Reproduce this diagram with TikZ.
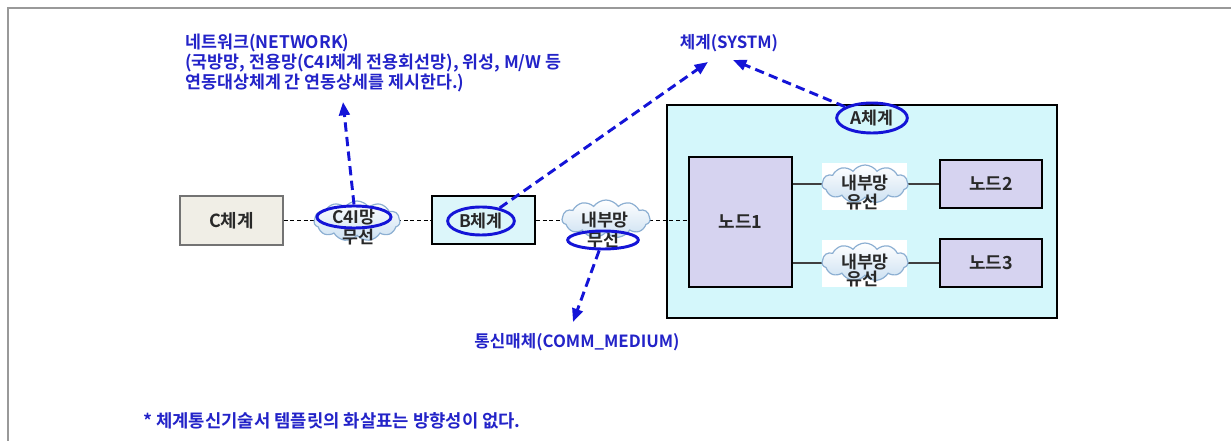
\documentclass[tikz,border=0pt]{standalone}
\usepackage{fontspec}
\setmainfont{Noto Sans CJK KR}[BoldFont={Noto Sans CJK KR Bold}]
\usetikzlibrary{shapes.geometric,shapes.symbols,arrows.meta}
\definecolor{lblue}{RGB}{35,35,200}
\definecolor{hblue}{RGB}{20,20,215}
\definecolor{cfill}{RGB}{240,238,230}
\definecolor{bfill}{RGB}{220,246,250}
\definecolor{afill}{RGB}{212,247,251}
\definecolor{nfill}{RGB}{214,211,240}
\definecolor{txtgray}{RGB}{40,40,40}
\definecolor{cloudedge}{RGB}{140,175,210}
\definecolor{cloudfill}{RGB}{205,225,242}
\begin{document}
\begin{tikzpicture}[x=0.75pt,y=-0.75pt,
  lbl/.style={text=lblue, font=\fontsize{12.6}{15}\selectfont\bfseries, inner sep=0pt},
  box/.style={draw=black, line width=1.5pt, inner sep=0pt, text=txtgray, font=\fontsize{13.5}{15}\selectfont\bfseries},
  ctxt/.style={text=txtgray, font=\fontsize{13}{15}\selectfont\bfseries, inner sep=0pt},
  hl/.style={ellipse, draw=hblue, line width=2.2pt, inner sep=0pt},
  ptr/.style={draw=hblue, line width=2.2pt, dash pattern=on 7pt off 4pt, -{Triangle[length=10pt,width=8pt]}},
  link/.style={draw=black, line width=0.6pt, dash pattern=on 3pt off 2pt},
  solidlink/.style={draw=black!75, line width=0.9pt},
  cloudy/.style={cloud, cloud puffs=11, cloud puff arc=110, draw=cloudedge, top color=white, bottom color=cloudfill, line width=0.9pt, inner sep=0pt}
]
\path[use as bounding box] (0,0) rectangle (1231,441);
\draw[gray!80, line width=1.4pt] (8,441) -- (8,8) -- (1231,8);

% boxes
\node[box, draw=gray!90!black, line width=1.1pt, fill=cfill, minimum width=77.25pt, minimum height=36.75pt] (cbox) at (231.5,220.5) {C체계};
\node[box, fill=bfill, minimum width=77.25pt, minimum height=36pt] (bbox) at (483.5,220) {};
\node[box, fill=afill, minimum width=292.5pt, minimum height=159.75pt] (abox) at (862,211.5) {};
\node[box, fill=nfill, minimum width=77.25pt, minimum height=97.5pt] (node1) at (740.5,222) {노드1};
\node[box, fill=nfill, minimum width=76.5pt, minimum height=36pt] (node2) at (991,184) {노드2};
\node[box, fill=nfill, minimum width=76.5pt, minimum height=36pt] (node3) at (991,263) {노드3};

% white backgrounds of inner clouds
\node[fill=white, inner sep=0pt, minimum width=63.75pt, minimum height=35.25pt] (bg2) at (864.5,186.5) {};
\node[fill=white, inner sep=0pt, minimum width=63.75pt, minimum height=35.25pt] (bg3) at (864.5,263.5) {};

% connectors
\draw[link] (cbox.east) -- (bbox.west |- cbox.east);
\draw[link] (bbox.east) -- (node1.west |- bbox.east);
\draw[solidlink] (node1.east |- node2.west) -- (node2.west);
\draw[solidlink] (node1.east |- node3.west) -- (node3.west);

% clouds
\node[cloudy, minimum width=64.5pt, minimum height=30pt] (c4icloud) at (357,221) {};
\node[cloudy, minimum width=66pt, minimum height=28.5pt] (incloud) at (606,219) {};
\node[cloudy, minimum width=64.5pt, minimum height=28.5pt] (cloud2) at (865,184) {};
\node[cloudy, minimum width=64.5pt, minimum height=28.5pt] (cloud3) at (865,262) {};

\node[ctxt] (c4itop) at (354,217) {C4I망};
\node[ctxt] (c4isub) at (358,237) {무선};
\node[ctxt] (insub) at (605,220) {내부망};
\node[ctxt] (inlow) at (603,240) {무선};
\node[ctxt] (c2a) at (865,183) {내부망};
\node[ctxt] (c2b) at (862,202) {유선};
\node[ctxt] (c3a) at (865,262) {내부망};
\node[ctxt] (c3b) at (862,279) {유선};
\node[ctxt] (btxt) at (481,221) {B체계};
\node[ctxt] (atxt) at (872,118) {A체계};

% highlight ellipses
\node[hl, minimum width=55.5pt, minimum height=16.5pt] (c4iell) at (354,217) {};
\node[hl, minimum width=50pt, minimum height=21pt] (bell) at (481,221) {};
\node[hl, minimum width=53pt, minimum height=22.5pt] (aell) at (872,118) {};
\node[hl, minimum width=53pt, minimum height=13.5pt] (commell) at (603,240) {};

% labels
\node[lbl, anchor=north west, align=left, font=\fontsize{13}{15}\selectfont\bfseries] (netlbl) at (185,34) {네트워크(NETWORK)\\(국방망, 전용망(C4I체계 전용회선망), 위성, M/W 등\\연동대상체계 간 연동상세를 제시한다.)};
\node[lbl] (syslbl) at (729,43) {체계(SYSTM)};
\node[lbl] (commlbl) at (577,342) {통신매체(COMM\_MEDIUM)};
\node[lbl, anchor=west, font=\fontsize{13.3}{15}\selectfont\bfseries] (note) at (143,421) {* 체계통신기술서 템플릿의 화살표는 방향성이 없다.};

% pointer arrows
\coordinate (netTip) at (343,102);
\coordinate (sysTipB) at (708,62);
\coordinate (sysTipA) at (733,60);
\coordinate (commTip) at (573,322);
\draw[ptr] (c4iell.north) -- (netTip);
\draw[ptr] (bell) -- (sysTipB);
\draw[ptr] (aell) -- (sysTipA);
\draw[ptr] (commell) -- (commTip);
\end{tikzpicture}
\end{document}
